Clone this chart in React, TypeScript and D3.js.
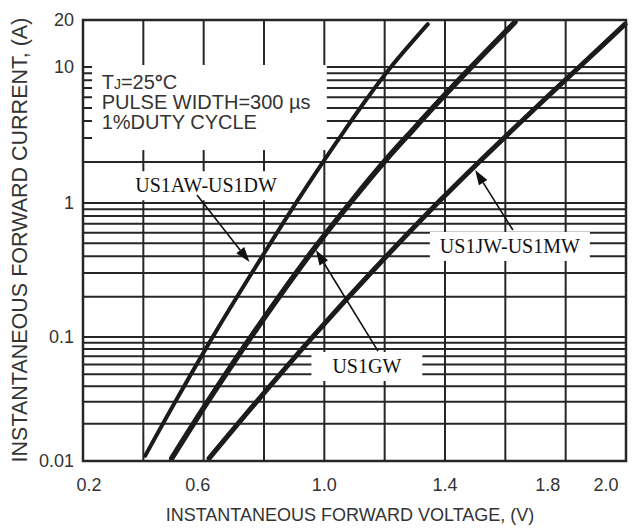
import React from 'react';
import * as d3 from 'd3';

const W = 641;
const H = 529;

// Axis definitions
const X_DOMAIN = [0.2, 2.0];
const X_GRID = [0.4, 0.6, 0.8, 1.0, 1.2, 1.4, 1.6, 1.8];
const X_TICK_LABELS = ['0.2', '0.6', '1.0', '1.4', '1.8', '2.0'];
const Y_DECADES = [0.01, 0.1, 1];
const Y_TICK_LABELS = ['0.01', '0.1', '1', '10', '20'];

// Curves (V, A)
const curveA_V = [0.406, 0.511, 0.644, 0.8, 0.912, 0.996, 1.068, 1.138, 1.22, 1.343];
const curveA_I = [0.011, 0.0316, 0.113, 0.42, 1.05, 2.01, 3.44, 5.72, 9.95, 18.8];
const curveB_V = [0.494, 0.619, 0.773, 0.963, 1.093, 1.201, 1.293, 1.384, 1.487, 1.632];
const curveB_I = [0.0105, 0.0316, 0.113, 0.446, 1.05, 2.04, 3.44, 5.72, 10, 19.4];
const curveC_V = [0.618, 0.785, 0.982, 1.163, 1.385, 1.517, 1.623, 1.728, 1.845, 1.997];
const curveC_I = [0.0105, 0.032, 0.113, 0.316, 1.05, 2.045, 3.44, 5.72, 10, 18.8];

const SERIES = [
  { name: 'US1AW-US1DW', v: curveA_V, i: curveA_I, width: 4 },
  { name: 'US1GW', v: curveB_V, i: curveB_I, width: 5.5 },
  { name: 'US1JW-US1MW', v: curveC_V, i: curveC_I, width: 5 },
];

// Labels with arrows (data coordinates)
const LABELS = [
  { text: 'US1AW-US1DW', v: 0.608, i: 1.2, padX: 7, from: [0.578, 1.145], to: [0.752, 0.363] },
  { text: 'US1JW-US1MW', v: 1.615, i: 0.424, padX: 10, from: [1.625, 0.629], to: [1.5, 1.75] },
  { text: 'US1GW', v: 1.141, i: 0.0513, padX: 21, from: [1.178, 0.077], to: [0.972, 0.446] },
];

const CONDITIONS = ['PULSE WIDTH=300 \u00b5s', '1%DUTY CYCLE'];

export default function App() {
  const x = d3.scaleLinear().domain(X_DOMAIN).range([83, 626]);
  const y = d3.scaleLog().domain([0.01, 0.1, 1, 10, 20]).range([461, 337, 203, 67, 20]);

  const hGrid: number[] = [];
  Y_DECADES.forEach((d) => {
    for (let k = 1; k <= 9; k++) {
      const v = d * k;
      if (v > 0.0100001) hGrid.push(v);
    }
  });
  hGrid.push(10);

  const line = d3
    .line<[number, number]>()
    .x((d) => x(d[0]))
    .y((d) => y(d[1]))
    .curve(d3.curveCatmullRom.alpha(0.5));

  const gridColor = '#262626';
  const textColor = '#333';
  const sans = "'Liberation Sans', Arial, sans-serif";
  const serif = "'Liberation Serif', 'Times New Roman', serif";

  const xl = x(X_DOMAIN[0]);
  const xr = x(X_DOMAIN[1]);
  const yb = y(0.01);
  const yt = y(20);

  const yTickVals = [0.01, 0.1, 1, 10, 20];
  const xTickVals = X_TICK_LABELS.map(Number);

  // Conditions box
  const boxL = x(0.23);
  const boxR = x(1.0) + 2.5;
  const boxT = y(10.3);
  const boxB = y(2.45);

  const arrow = (from: number[], to: number[], key: string) => {
    const x1 = x(from[0]);
    const y1 = y(from[1]);
    const x2 = x(to[0]);
    const y2 = y(to[1]);
    const ang = Math.atan2(y2 - y1, x2 - x1);
    const L = 15;
    const Wh = 5;
    const bx = x2 - L * Math.cos(ang);
    const by = y2 - L * Math.sin(ang);
    const px = -Math.sin(ang) * Wh;
    const py = Math.cos(ang) * Wh;
    return (
      <g key={key}>
        <line x1={x1} y1={y1} x2={bx} y2={by} stroke="#111" strokeWidth={1.6} />
        <polygon
          points={`${x2},${y2} ${bx + px},${by + py} ${bx - px},${by - py}`}
          fill="#111"
        />
      </g>
    );
  };

  return (
    <svg
      width={W}
      height={H}
      style={{ position: 'absolute', left: 0, top: 0, background: '#fff' }}
    >
      <rect x={0} y={0} width={W} height={H} fill="#fff" />
      {/* grid */}
      {X_GRID.map((v) => (
        <line key={'vx' + v} x1={x(v)} x2={x(v)} y1={yt} y2={yb} stroke={gridColor} strokeWidth={2} />
      ))}
      {hGrid.map((v) => (
        <line key={'hy' + v} x1={xl} x2={xr} y1={y(v)} y2={y(v)} stroke={gridColor} strokeWidth={2} />
      ))}

      {/* white mask behind test conditions */}
      <rect x={boxL} y={boxT} width={boxR - boxL} height={boxB - boxT} fill="#fff" />

      {/* curves */}
      {SERIES.map((s) => (
        <path
          key={s.name}
          d={line(s.v.map((v, k) => [v, s.i[k]] as [number, number])) || ''}
          fill="none"
          stroke="#1c1a1a"
          strokeWidth={s.width}
          strokeLinecap="round"
        />
      ))}

      {/* labels */}
      {LABELS.map((l) => (
        <LabelBox key={l.text} text={l.text} cx={x(l.v)} baseline={y(l.i)} padX={l.padX} font={serif} />
      ))}
      {LABELS.map((l) => arrow(l.from, l.to, 'a' + l.text))}

      {/* conditions text */}
      <g fontFamily={sans} fontSize={20} fill={textColor}>
        <text x={x(0.262)} y={y(6.9)}>
          T<tspan fontSize={14}>J</tspan>=25<tspan fontWeight="bold">°</tspan>C
        </text>
        {CONDITIONS.map((c, k) => (
          <text key={c} x={x(0.262)} y={y(6.9) + 20 * (k + 1)}>
            {c}
          </text>
        ))}
      </g>

      {/* border */}
      <rect x={xl} y={yt} width={xr - xl} height={yb - yt} fill="none" stroke={gridColor} strokeWidth={2.5} />

      {/* tick labels */}
      <g fontFamily={sans} fontSize={18} fill={textColor}>
        {yTickVals.map((v, k) => (
          <text key={'yl' + v} x={74} y={y(v)} textAnchor="end" dominantBaseline="central">
            {Y_TICK_LABELS[k]}
          </text>
        ))}
        {xTickVals.map((v, k) => (
          <text
            key={'xl' + v}
            x={x(v) + (k === 0 ? 6 : k === xTickVals.length - 1 ? -20 : v === 1.8 ? -18 : v === 0.6 ? -6 : 0)}
            y={491}
            textAnchor="middle"
          >
            {X_TICK_LABELS[k]}
          </text>
        ))}
      </g>

      {/* axis titles */}
      <text x={350} y={521} textAnchor="middle" fontFamily={sans} fontSize={18} fill={textColor}>
        INSTANTANEOUS FORWARD VOLTAGE, (V)
      </text>
      <text
        transform={`translate(27, 240) rotate(-90)`}
        textAnchor="middle"
        fontFamily={sans}
        fontSize={21.5}
        fill={textColor}
      >
        INSTANTANEOUS FORWARD CURRENT, (A)
      </text>
    </svg>
  );
}

function LabelBox(props: { text: string; cx: number; baseline: number; padX: number; font: string }) {
  const ref = React.useRef<SVGTextElement>(null);
  const [w, setW] = React.useState(0);
  React.useLayoutEffect(() => {
    if (ref.current) setW(ref.current.getComputedTextLength());
  }, [props.text]);
  const { cx, baseline, padX } = props;
  return (
    <g>
      {w > 0 && (
        <rect x={cx - w / 2 - padX} y={baseline - 21} width={w + 2 * padX} height={29} fill="#fff" />
      )}
      <text ref={ref} x={cx} y={baseline} textAnchor="middle" fontFamily={props.font} fontSize={20} fill="#111">
        {props.text}
      </text>
    </g>
  );
}
